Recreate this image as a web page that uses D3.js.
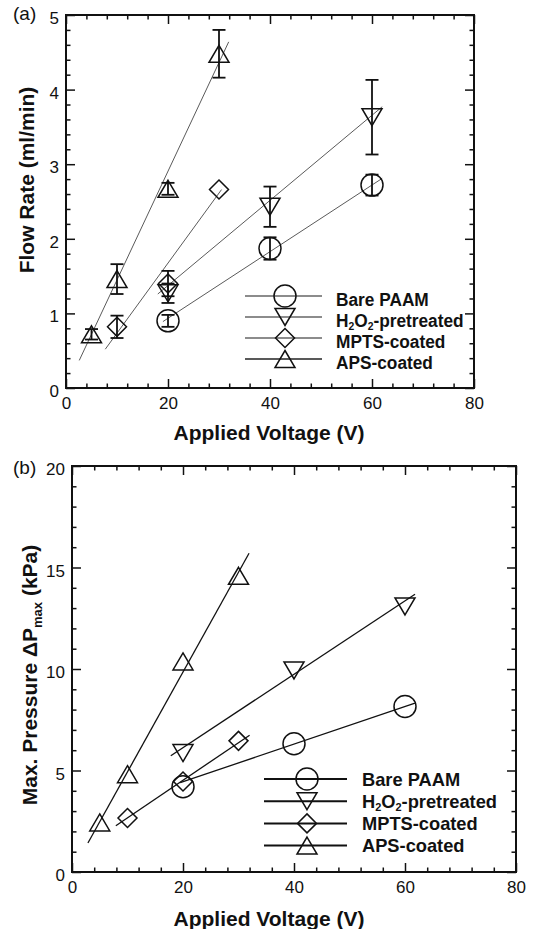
<!DOCTYPE html>
<html>
<head>
<meta charset="utf-8">
<script src="https://cdn.jsdelivr.net/npm/d3@7"></script>
<style>
body { margin: 0; background: #fff; }
text { font-family: "Liberation Sans", Arial, Helvetica, sans-serif; fill: #111; }
</style>
</head>
<body>
<svg id="chart" width="534" height="929"></svg>
<script>
// series labels / shapes
var seriesLabels = ["Bare PAAM", "H2O2-pretreated", "MPTS-coated", "APS-coated"];
var seriesShapes = ["circle", "down", "diamond", "up"];

var xTicks = [0, 20, 40, 60, 80];
var flowTicks = [0, 1, 2, 3, 4, 5];
var presTicks = [0, 5, 10, 15, 20];

// (a) flow rate, ml/min
var bareV = [20, 40, 60];
var h2o2V = [20, 40, 60];
var mptsV = [10, 20, 30];
var apsV = [5, 10, 20, 30];

var flowBare = [0.90, 1.87, 2.72];
var flowBareErr = [0.08, 0.15, 0.14];
var flowH2o2 = [1.27, 2.43, 3.63];
var flowH2o2Err = [0.13, 0.27, 0.50];
var flowMpts = [0.82, 1.40, 2.66];
var flowMptsErr = [0.15, 0.17, 0];
var flowAps = [0.72, 1.46, 2.67, 4.48];
var flowApsErr = [0.07, 0.20, 0.08, 0.32];

// fitted lines (end points)
var flowFitBare = [[19, 0.89], [62, 2.81]];
var flowFitH2o2 = [[18, 1.26], [62, 3.77]];
var flowFitMpts = [[7.7, 0.52], [30.5, 2.66]];
var flowFitAps = [[2.6, 0.37], [31.9, 4.64]];

// (b) max pressure, kPa
var presBare = [4.20, 6.32, 8.15];
var presH2o2 = [5.86, 9.93, 13.08];
var presMpts = [2.66, 4.46, 6.46];
var presAps = [2.44, 4.82, 10.37, 14.59];

var presFitBare = [[19.5, 4.40], [61.8, 8.32]];
var presFitH2o2 = [[17.8, 5.73], [61.8, 13.68]];
var presFitMpts = [[7.9, 2.28], [32, 6.74]];
var presFitAps = [[2.87, 1.43], [31.9, 15.7]];

var svg = d3.select("#chart");

var shapePath = {
  up: "M0,-8.5L10,8.5L-10,8.5Z",
  down: "M0,8.5L10,-8.5L-10,-8.5Z",
  diamond: "M0,-9.5L9.5,0L0,9.5L-9.5,0Z"
};

function marker(sel, shape) {
  if (shape == "circle") {
    sel.append("circle").attr("r", 11);
  } else {
    sel.append("path").attr("d", shapePath[shape]);
  }
  sel.selectAll("circle,path").attr("fill", "none").attr("stroke", "#111").attr("stroke-width", 1.5);
}

// label text with digits as subscripts (H2O2)
function subText(t, str, subSize, shift) {
  var low = false;
  str.split(/(\d)/).filter(function(s) { return s.length; }).forEach(function(s) {
    if (/\d/.test(s)) {
      t.append("tspan").attr("font-size", subSize).attr("dy", low ? 0 : shift).text(s);
      low = true;
    } else {
      t.append("tspan").attr("dy", low ? -shift : 0).text(s);
      low = false;
    }
  });
}

function drawPanel(opt) {
  var g = svg.append("g").attr("transform", "translate(" + opt.left + "," + opt.top + ")");
  var w = opt.width, h = opt.height;
  var x = d3.scaleLinear().domain([0, 80]).range([0, w]);
  var y = d3.scaleLinear().domain([0, opt.yMax]).range([h, 0]);

  var minorX = d3.range(0, 81, 4).filter(function(v) { return v % 20; });
  var minorY = d3.range(0, opt.yMax + 1e-9, opt.yMinor).filter(function(v) {
    return Math.abs(v / opt.yStep - Math.round(v / opt.yStep)) > 1e-6;
  });

  function axis(a, trans) {
    var ax = g.append("g").attr("transform", trans).call(a);
    ax.select(".domain").remove();
    ax.selectAll("line").attr("stroke", "#111").attr("stroke-width", 1.5);
    ax.attr("font-size", 17).attr("font-family", "Liberation Sans, Arial, sans-serif");
    return ax;
  }

  axis(d3.axisBottom(x).tickValues(xTicks).tickSize(-9).tickPadding(9).tickFormat(d3.format("d")), "translate(0," + h + ")");
  axis(d3.axisBottom(x).tickValues(minorX).tickSize(-4.5).tickFormat(""), "translate(0," + h + ")");
  axis(d3.axisTop(x).tickValues(xTicks).tickSize(-9).tickFormat(""), "translate(0,0)");
  axis(d3.axisTop(x).tickValues(minorX).tickSize(-4.5).tickFormat(""), "translate(0,0)");
  var yl = axis(d3.axisLeft(y).tickValues(opt.yTicks).tickSize(-9).tickPadding(7).tickFormat(d3.format("d")), "translate(0,0)");
  yl.selectAll("text").attr("dy", "0.5em");
  axis(d3.axisLeft(y).tickValues(minorY).tickSize(-4.5).tickFormat(""), "translate(0,0)");
  axis(d3.axisRight(y).tickValues(opt.yTicks).tickSize(-9).tickFormat(""), "translate(" + w + ",0)");
  axis(d3.axisRight(y).tickValues(minorY).tickSize(-4.5).tickFormat(""), "translate(" + w + ",0)");

  g.append("rect").attr("width", w).attr("height", h)
    .attr("fill", "none").attr("stroke", "#111").attr("stroke-width", 2);

  var line = d3.line().x(function(d) { return x(d[0]); }).y(function(d) { return y(d[1]); });

  opt.series.forEach(function(s) {
    g.append("path").attr("d", line(s.fit))
      .attr("fill", "none").attr("stroke", opt.fitColor).attr("stroke-width", opt.fitWidth);
  });

  opt.series.forEach(function(s, si) {
    var pts = s.v.map(function(v, i) { return { v: v, val: s.val[i], err: s.err ? s.err[i] : 0 }; });
    var eb = g.selectAll(null).data(pts.filter(function(d) { return d.err > 0; })).enter().append("g")
      .attr("fill", "none").attr("stroke", "#111").attr("stroke-width", 1.8);
    eb.append("line")
      .attr("x1", function(d) { return x(d.v); }).attr("x2", function(d) { return x(d.v); })
      .attr("y1", function(d) { return y(d.val - d.err); }).attr("y2", function(d) { return y(d.val + d.err); });
    [-1, 1].forEach(function(k) {
      eb.append("line")
        .attr("x1", function(d) { return x(d.v) - 6.5; }).attr("x2", function(d) { return x(d.v) + 6.5; })
        .attr("y1", function(d) { return y(d.val + k * d.err); }).attr("y2", function(d) { return y(d.val + k * d.err); });
    });
    g.selectAll(null).data(pts).enter().append("g")
      .attr("transform", function(d) { return "translate(" + x(d.v) + "," + y(d.val) + ")"; })
      .each(function() { marker(d3.select(this), seriesShapes[si]); });
  });

  // legend
  var L = opt.legend;
  seriesLabels.forEach(function(name, i) {
    var ry = L.y + i * L.step;
    g.append("line").attr("x1", L.x0).attr("x2", L.x1).attr("y1", ry).attr("y2", ry)
      .attr("stroke", L.colors[i]).attr("stroke-width", L.lineWidth);
    var m = g.append("g").attr("transform", "translate(" + L.mx + "," + ry + ")");
    marker(m, seriesShapes[i]);
    var t = g.append("text")
      .attr("transform", "translate(" + L.tx + "," + (ry + L.dy) + ") scale(" + L.sx + ",1)")
      .attr("font-size", L.size).attr("font-weight", "bold");
    subText(t, name, L.size * 0.6, 3);
  });

  // axis titles
  svg.append("text").attr("x", opt.xLabel[0]).attr("y", opt.xLabel[1])
    .attr("text-anchor", "middle").attr("font-size", 21).attr("font-weight", "bold")
    .text("Applied Voltage (V)");
  var yt = svg.append("text")
    .attr("transform", "translate(" + opt.yLabel[0] + "," + opt.yLabel[1] + ") rotate(-90)")
    .attr("text-anchor", "middle").attr("font-size", 21).attr("font-weight", "bold");
  opt.yTitle(yt);

  svg.append("text").attr("x", 13).attr("y", opt.top + opt.tagDy)
    .attr("font-size", 19).text(opt.tag);
}

drawPanel({
  left: 66, top: 15, width: 408, height: 373,
  yMax: 5, yStep: 1, yMinor: 0.2, yTicks: flowTicks,
  fitColor: "#5a5a5a", fitWidth: 1,
  series: [
    { v: bareV, val: flowBare, err: flowBareErr, fit: flowFitBare },
    { v: h2o2V, val: flowH2o2, err: flowH2o2Err, fit: flowFitH2o2 },
    { v: mptsV, val: flowMpts, err: flowMptsErr, fit: flowFitMpts },
    { v: apsV, val: flowAps, err: flowApsErr, fit: flowFitAps }
  ],
  legend: { x0: 179, x1: 256, mx: 219, tx: 270, y: 281, step: 21, dy: 9.5,
            size: 18, sx: 0.96, lineWidth: 1.5, colors: ["#666", "#666", "#666", "#222"] },
  xLabel: [269, 440], yLabel: [34, 180],
  yTitle: function(t) { t.text("Flow Rate (ml/min)"); },
  tag: "(a)", tagDy: 5
});

drawPanel({
  left: 72, top: 466, width: 444, height: 406,
  yMax: 20, yStep: 5, yMinor: 1, yTicks: presTicks,
  fitColor: "#111", fitWidth: 1.3,
  series: [
    { v: bareV, val: presBare, fit: presFitBare },
    { v: h2o2V, val: presH2o2, fit: presFitH2o2 },
    { v: mptsV, val: presMpts, fit: presFitMpts },
    { v: apsV, val: presAps, fit: presFitAps }
  ],
  legend: { x0: 192, x1: 275, mx: 235, tx: 290, y: 313, step: 22.2, dy: 6.5,
            size: 17.5, sx: 1.045, lineWidth: 2, colors: ["#111", "#111", "#111", "#111"] },
  xLabel: [269, 926], yLabel: [37, 675],
  yTitle: function(t) {
    t.append("tspan").text("Max. Pressure \u0394P");
    t.append("tspan").attr("font-size", 13).attr("dy", 5).text("max");
    t.append("tspan").attr("dy", -5).text(" (kPa)");
  },
  tag: "(b)", tagDy: 8
});
</script>
</body>
</html>
